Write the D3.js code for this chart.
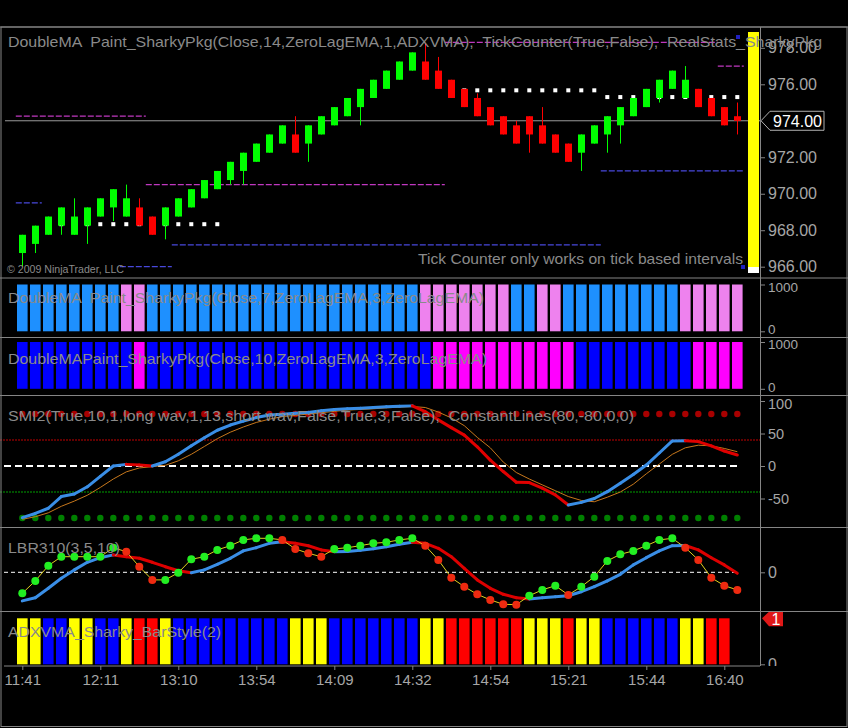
<!DOCTYPE html>
<html>
<head>
<meta charset="utf-8">
<script src="https://cdn.jsdelivr.net/npm/d3@7"></script>
<style>
  body { margin: 0; background: #000; }
  svg { display: block; }
</style>
</head>
<body>
<div id="chart"></div>
<script>
// x axis labels (one every 6 bars)
var times = ["11:41", "12:11", "13:10", "13:54", "14:09", "14:32", "14:54", "15:21", "15:44", "16:40"];

// price bars
var open = [966.75, 967.25, 967.75, 968.25, 967.75, 968.25, 968.75, 969.25, 968.75, 969.25,
            968.75, 968.25, 968.75, 969.25, 969.75, 970.25, 970.75, 971.25, 971.75, 972.25,
            972.75, 973.25, 972.75, 973.25, 973.75, 974.25, 974.75, 975.25, 975.75, 976.25,
            976.75, 977.25, 976.75, 976.25, 975.75, 975.25, 974.75, 974.25, 973.75, 974.25,
            973.75, 973.25, 972.75, 972.25, 972.75, 973.25, 973.75, 974.25, 974.75, 975.25,
            975.75, 975.25, 975.75, 975.25, 974.75, 974.25];
var high = [967.75, 968.25, 968.75, 969.25, 969.75, 969.25, 969.75, 970.25, 970.50, 969.75,
            968.75, 969.25, 969.75, 970.25, 970.75, 971.25, 971.75, 972.25, 972.75, 973.25,
            973.75, 974.25, 973.75, 974.25, 974.75, 975.25, 975.75, 976.25, 976.75, 977.25,
            977.75, 978.25, 977.50, 976.25, 975.75, 975.50, 974.75, 974.25, 974.00, 974.25,
            974.75, 973.25, 972.75, 973.25, 973.75, 974.25, 974.75, 975.25, 975.75, 976.25,
            976.75, 977.00, 975.75, 975.25, 974.75, 975.00];
var low  = [966.00, 966.75, 967.75, 967.75, 967.75, 967.25, 968.75, 968.50, 968.75, 968.25,
            967.75, 967.50, 968.75, 969.25, 969.75, 970.25, 970.50, 970.50, 971.75, 972.25,
            972.75, 972.25, 971.75, 973.25, 973.75, 974.25, 973.75, 975.25, 975.75, 976.25,
            976.75, 976.25, 975.75, 975.25, 974.75, 974.25, 973.75, 973.25, 972.75, 972.25,
            972.75, 972.25, 971.75, 971.25, 972.75, 972.25, 972.75, 974.25, 974.75, 975.00,
            975.75, 975.25, 974.75, 974.25, 973.75, 973.25];
var close = [967.75, 968.25, 968.75, 969.25, 968.75, 969.25, 969.75, 970.25, 969.75, 968.25,
             967.75, 969.25, 969.75, 970.25, 970.75, 971.25, 971.75, 972.25, 972.75, 973.25,
             973.75, 972.25, 973.75, 974.25, 974.75, 975.25, 975.75, 976.25, 976.75, 977.25,
             977.75, 976.25, 975.75, 975.25, 974.75, 974.25, 973.75, 973.25, 972.75, 973.25,
             972.75, 972.25, 971.75, 973.25, 973.75, 974.25, 974.75, 975.25, 975.75, 976.25,
             976.75, 976.25, 974.75, 974.25, 973.75, 974.00];
var lastPrice = 974.00;
// 974.00 is hidden behind the last price marker
var priceTicks = [966, 968, 970, 972, 976, 978];

// [first bar, last bar, price]
var stopLevels = [[3, 15, 968.33], [33, 44, 975.67], [45, 55, 975.30]];
var upperLevels = [[0, 9, 974.25], [10, 32, 970.50], [33, 53, 978.30], [54, 55, 977.00]];
var lowerLevels = [[0, 1, 969.50], [8, 11, 966.00], [12, 44, 967.20], [45, 55, 971.25]];

// paint bars: 1 = up colour, 0 = down colour
var dmaFast = [1,1,1,1,1,1,1,1,0,0, 1,1,1,1,1,1,1,1,1,1, 1,1,1,1,1,1,1,1,1,1,
               1,0,0,0,0,0,0,0,1,1, 0,0,1,1,1,1,1,1,1,1, 1,0,0,0,0,0];
var dmaSlow = [1,1,1,1,1,1,1,1,1,0, 1,1,1,1,1,1,1,1,1,1, 1,1,1,1,1,1,1,1,1,1,
               1,1,0,0,0,0,0,0,0,0, 0,0,0,1,1,1,1,1,1,1, 1,1,0,0,0,0];

// SMI
var smi = [-79.5, -73, -65, -47, -43, -32, -16, 0, 2.5, 1.5,
           0, 6.5, 18, 31, 43.5, 55, 63, 69, 74.5, 78.5,
           79.5, 81, 82.5, 85, 87, 88, 89, 90, 91, 92,
           92.5, 83.5, 71, 59, 47.5, 29.5, 9, -8.5, -25, -25.5,
           -34, -44.5, -60, -56, -50, -39.5, -26.5, -13, 1.5, 20,
           38.5, 39, 37.5, 31, 23, 17];
var smiSignal = [-82, -78, -72, -62, -54, -45, -33, -20, -9, -3,
                 -1, 1, 8, 18, 30, 42, 52, 60, 67, 72,
                 76, 78, 80, 82, 84, 86, 87, 88, 89.5, 90.5,
                 91.5, 90, 83, 74, 62, 44, 28, 6, -10, -20,
                 -29, -38, -47, -53, -55, -48, -40, -28, -12, 3,
                 18, 28, 32, 31, 27, 22];
var smiTicks = [-50, 0, 50, 100];
var constLines = [80, -80, 40, -40];

// LBR310
var lbrFast = [-1.05, -0.43, 0.33, 0.78, 0.78, 0.78, 0.78, 1.23, 1.03, 0.28,
               -0.38, -0.38, -0.02, 0.65, 0.78, 1.12, 1.33, 1.62, 1.70, 1.70,
               1.62, 1.17, 0.95, 0.78, 1.17, 1.23, 1.33, 1.45, 1.50, 1.62,
               1.70, 1.33, 0.62, -0.27, -0.72, -1.10, -1.38, -1.60, -1.62, -1.17,
               -0.88, -0.67, -1.13, -0.72, -0.22, 0.57, 0.90, 1.07, 1.33, 1.62,
               1.70, 1.23, 0.62, -0.27, -0.67, -0.88];
var lbrSlow = [-1.43, -1.27, -0.80, -0.30, 0.12, 0.50, 0.73, 0.87, 0.78, 0.70,
               0.50, 0.28, 0.08, -0.02, 0.12, 0.40, 0.70, 1.07, 1.23, 1.45,
               1.53, 1.45, 1.33, 1.12, 1.03, 1.04, 1.10, 1.18, 1.28, 1.40,
               1.50, 1.45, 1.20, 0.78, 0.20, -0.38, -0.80, -1.10, -1.27, -1.33,
               -1.27, -1.22, -1.17, -0.97, -0.72, -0.43, -0.10, 0.37, 0.73, 1.07,
               1.33, 1.34, 1.12, 0.73, 0.37, -0.05];

// ADXVMA bar style: Y yellow, B blue, R red
var adxStyle = ["Y","Y","B","B","Y","Y","B","B","Y","R",
                "R","Y","B","B","B","B","B","B","B","B",
                "B","Y","Y","Y","B","B","B","B","B","B",
                "B","Y","Y","R","R","R","R","R","R","Y",
                "Y","Y","R","Y","Y","B","B","B","B","B",
                "B","Y","Y","R","R"];

var font = "'Liberation Sans', Arial, sans-serif";
var lineGray = "#858585", textGray = "#8a8a8a", labelGray = "#a6a6a6";

var svg = d3.select("#chart").append("svg")
    .attr("width", 848).attr("height", 728)
    .style("background", "#000")
    .attr("font-family", font);
var defs = svg.append("defs");

// bar index -> pixel
var x = d3.scaleLinear().domain([0, 55]).range([22.3, 737.3]);
var half = 6.5;

function panel(id, top, bottom) {
  defs.append("clipPath").attr("id", id).append("rect")
    .attr("x", 0).attr("y", top).attr("width", 848).attr("height", bottom - top);
  return svg.append("g").attr("clip-path", "url(#" + id + ")");
}

// nudge(v) shifts a label a little so neighbouring panels' labels don't collide
function rightAxis(g, scale, values, fmt, size, nudge) {
  var ax = g.append("g").attr("transform", "translate(760,0)")
    .call(d3.axisRight(scale).tickValues(values).tickSize(5).tickPadding(3).tickFormat(fmt));
  ax.select(".domain").remove();
  ax.selectAll("line").attr("stroke", lineGray);
  ax.selectAll("text").attr("fill", labelGray).attr("font-size", size || 16).attr("font-family", font)
    .attr("y", d => nudge ? nudge(d) : 0);
  return ax;
}

function legend(g, txt, x0, y0, len, size) {
  g.append("text").attr("x", x0).attr("y", y0)
    .attr("fill", textGray).attr("font-size", size)
    .attr("textLength", len).attr("lengthAdjust", "spacingAndGlyphs")
    .style("white-space", "pre")
    .text(txt);
}

// coloured polyline, blue while rising, red while falling
function dirLine(g, scale, vals, up, down, w) {
  g.append("g").selectAll("line")
    .data(d3.range(1, vals.length))
    .join("line")
      .attr("x1", i => x(i - 1)).attr("y1", i => scale(vals[i - 1]))
      .attr("x2", i => x(i)).attr("y2", i => scale(vals[i]))
      .attr("stroke", i => vals[i] >= vals[i - 1] ? up : down)
      .attr("stroke-width", w)
      .attr("stroke-linecap", "round");
}

// ---------- price panel ----------
var pg = panel("cp0", 27, 278);
var y = d3.scaleLinear().domain([966, 976]).range([266.7, 84.3]);

function levelLines(levels, color) {
  pg.append("g").selectAll("line")
    .data(levels)
    .join("line")
      .attr("x1", d => x(d[0]) - half).attr("x2", d => x(d[1]) + half)
      .attr("y1", d => y(d[2])).attr("y2", d => y(d[2]))
      .attr("stroke", color).attr("stroke-width", 1.3)
      .attr("stroke-dasharray", "6,2");
}
levelLines(upperLevels, "#c038c0");
levelLines(lowerLevels, "#4848dc");

pg.append("line")
  .attr("x1", 5).attr("x2", 760)
  .attr("y1", y(lastPrice)).attr("y2", y(lastPrice))
  .attr("stroke", "#9a9a9a").attr("stroke-width", 1);

var stopDots = [];
stopLevels.forEach(function(s) {
  d3.range(s[0], s[1] + 1).forEach(function(i) { stopDots.push({i: i, p: s[2]}); });
});
pg.append("g").selectAll("rect")
  .data(stopDots)
  .join("rect")
    .attr("x", d => x(d.i) - 2).attr("y", d => y(d.p) - 2)
    .attr("width", 4).attr("height", 4)
    .attr("fill", "#fff");

var bars = d3.range(open.length);
var candleColor = i => close[i] >= open[i] ? "#00ff00" : "#ff0000";
pg.append("g").selectAll("line")
  .data(bars)
  .join("line")
    .attr("x1", i => Math.round(x(i)) + 0.5).attr("x2", i => Math.round(x(i)) + 0.5)
    .attr("y1", i => y(high[i])).attr("y2", i => y(low[i]))
    .attr("stroke", candleColor).attr("stroke-width", 1);
pg.append("g").selectAll("rect")
  .data(bars)
  .join("rect")
    .attr("x", i => Math.round(x(i)) - 3)
    .attr("width", 7)
    .attr("y", i => y(Math.max(open[i], close[i])))
    .attr("height", i => Math.max(1, y(Math.min(open[i], close[i])) - y(Math.max(open[i], close[i]))))
    .attr("fill", candleColor);

// tick counter bar
pg.append("rect").attr("x", 748).attr("y", 32).attr("width", 11).attr("height", 235).attr("fill", "#ffff00");
pg.append("rect").attr("x", 748).attr("y", 267).attr("width", 11).attr("height", 6).attr("fill", "#fff");
pg.append("rect").attr("x", 736).attr("y", 35).attr("width", 4).attr("height", 4).attr("fill", "#2020c0");
pg.append("rect").attr("x", 741).attr("y", 265).attr("width", 4).attr("height", 4).attr("fill", "#2020c0");

rightAxis(pg, y, priceTicks, d3.format(".2f"));

// last price marker
var ly = y(lastPrice);
pg.append("polygon")
  .attr("points", [[761, ly], [770, ly - 9.5], [824, ly - 9.5], [824, ly + 9.5], [770, ly + 9.5]].join(" "))
  .attr("fill", "#000").attr("stroke", "#b0b0b0").attr("stroke-width", 1);
pg.append("text").attr("x", 773).attr("y", ly + 6)
  .attr("fill", "#fff").attr("font-size", 16).text(d3.format(".2f")(lastPrice));

legend(pg, "DoubleMA  Paint_SharkyPkg(Close,14,ZeroLagEMA,1,ADXVMA),  TickCounter(True,False),  RealStats_SharkyPkg", 8, 46.5, 814, 15);
legend(pg, "Tick Counter only works on tick based intervals", 418, 263.5, 325, 15);
legend(pg, "\u00a9 2009 NinjaTrader, LLC", 7, 273, 117, 11);

// ---------- paint bar panels ----------
function paintPanel(id, top, bottom, yTop, yBot, states, upCol, downCol, label, ly0, llen) {
  var g = panel(id, top, bottom);
  var ys = d3.scaleLinear().domain([0, 1000]).range([yBot, yTop]);
  g.append("g").selectAll("rect")
    .data(states)
    .join("rect")
      .attr("x", (d, i) => x(i) - 5.3).attr("width", 10.6)
      .attr("y", ys(1000)).attr("height", ys(0) - ys(1000))
      .attr("fill", d => d ? upCol : downCol);
  rightAxis(g, ys, [0, 1000], d3.format("d"), 13.5, d => d ? 2.5 : -2);
  legend(g, label, 8, ly0, llen, 15);
}
paintPanel("cp1", 278, 337.5, 284.5, 331.3, dmaFast, "#1e90ff", "#ee82ee",
  "DoubleMA  Paint_SharkyPkg(Close,7,ZeroLagEMA,3,ZeroLagEMA)", 302.5, 476);
paintPanel("cp2", 337.5, 395.5, 342, 388.8, dmaSlow, "#0000ff", "#ff00ff",
  "DoubleMAPaint_SharkyPkg(Close,10,ZeroLagEMA,3,ZeroLagEMA)", 363.5, 479);

// ---------- SMI panel ----------
var sg = panel("cp3", 395.5, 527.5);
var ySmi = d3.scaleLinear().domain([0, 100]).range([466, 401]);

sg.append("line").attr("x1", 0).attr("x2", 760)
  .attr("y1", ySmi(constLines[2])).attr("y2", ySmi(constLines[2]))
  .attr("stroke", "#c00000").attr("stroke-dasharray", "2,1");
sg.append("line").attr("x1", 0).attr("x2", 760)
  .attr("y1", ySmi(constLines[3])).attr("y2", ySmi(constLines[3]))
  .attr("stroke", "#00a000").attr("stroke-dasharray", "2,1");
sg.append("line").attr("x1", 4).attr("x2", 737)
  .attr("y1", ySmi(0)).attr("y2", ySmi(0))
  .attr("stroke", "#fff").attr("stroke-width", 2.2).attr("stroke-dasharray", "7,4");

sg.append("g").selectAll("circle")
  .data(bars)
  .join("circle")
    .attr("cx", i => x(i)).attr("cy", ySmi(constLines[0])).attr("r", 3.2)
    .attr("fill", "#a80000");
sg.append("g").selectAll("circle")
  .data(bars)
  .join("circle")
    .attr("cx", i => x(i)).attr("cy", ySmi(constLines[1])).attr("r", 3.2)
    .attr("fill", "#008000");

sg.append("path")
  .datum(smiSignal)
  .attr("fill", "none").attr("stroke", "#c8781c").attr("stroke-width", 1)
  .attr("d", d3.line().x((d, i) => x(i)).y(d => ySmi(d)));
dirLine(sg, ySmi, smi, "#3a8ee6", "#e00000", 3);

rightAxis(sg, ySmi, smiTicks, d => String(d), 14.5, d => d === 100 ? 2.5 : 0);
legend(sg, "SMI2(True,10,1,long wav,1,13,short wav,False,True,3,False),  ConstantLines(80,-80,0,0)", 8, 420.5, 626, 15);

// ---------- LBR310 panel ----------
var lg = panel("cp4", 527.5, 611.5);
var yLbr = d3.scaleLinear().domain([0, 1]).range([572.3, 552.3]);

lg.append("line").attr("x1", 4).attr("x2", 737)
  .attr("y1", yLbr(0)).attr("y2", yLbr(0))
  .attr("stroke", "#fff").attr("stroke-width", 1).attr("stroke-dasharray", "4,3");
dirLine(lg, yLbr, lbrSlow, "#3a8ee6", "#dd0000", 3);
lg.append("path")
  .datum(lbrFast)
  .attr("fill", "none").attr("stroke", "#e0d020").attr("stroke-width", 1)
  .attr("d", d3.line().x((d, i) => x(i)).y(d => yLbr(d)));
lg.append("g").selectAll("circle")
  .data(bars)
  .join("circle")
    .attr("cx", i => x(i)).attr("cy", i => yLbr(lbrFast[i])).attr("r", 4)
    .attr("fill", i => (i === 0 || lbrFast[i] >= lbrFast[i - 1]) ? "#22ee22" : "#ee2a10");

rightAxis(lg, yLbr, [0], d3.format("d"));
legend(lg, "LBR310(3,5,10)", 8, 553, 112, 15);

// ---------- ADXVMA bar style panel ----------
var ag = panel("cp5", 611.5, 666);
var yAdx = d3.scaleLinear().domain([0, 1]).range([664.3, 618.3]);
var styleColor = {Y: "#ffff00", B: "#0000ff", R: "#ff0000"};
ag.append("g").selectAll("rect")
  .data(adxStyle)
  .join("rect")
    .attr("x", (d, i) => x(i) - 5.3).attr("width", 10.6)
    .attr("y", yAdx(1)).attr("height", yAdx(0) - yAdx(1))
    .attr("fill", d => styleColor[d]);
rightAxis(ag, yAdx, [0], d3.format("d"));
legend(ag, "ADXVMA_Sharky_BarStyle(2)", 8, 636.5, 213, 15);

var ty = yAdx(1);
svg.append("polygon")
  .attr("points", [[762, ty], [769, ty - 6.5], [783, ty - 6.5], [783, ty + 8], [769, ty + 8]].join(" "))
  .attr("fill", "#e01818");
svg.append("text").attr("x", 776).attr("y", ty + 6.5).attr("text-anchor", "middle")
  .attr("fill", "#fff").attr("font-size", 16).text("1");

// ---------- time axis ----------
var tickIdx = times.map((t, k) => k * 6);
var xa = svg.append("g").attr("transform", "translate(0,666)")
  .call(d3.axisBottom(x).tickValues(tickIdx).tickSize(4).tickPadding(4)
    .tickFormat((d, k) => times[k]));
xa.select(".domain").remove();
xa.selectAll("line").attr("stroke", lineGray);
xa.selectAll("text").attr("fill", labelGray).attr("font-size", 15).attr("font-family", font);

// ---------- frame and separators ----------
[27, 278, 337.5, 395.5, 527.5, 611.5].forEach(function(v) {
  svg.append("line").attr("x1", 0).attr("x2", 848).attr("y1", v).attr("y2", v)
    .attr("stroke", lineGray).attr("stroke-width", 1);
});
svg.append("line").attr("x1", 4).attr("x2", 760).attr("y1", 666).attr("y2", 666).attr("stroke", lineGray);
svg.append("line").attr("x1", 760.5).attr("x2", 760.5).attr("y1", 27).attr("y2", 666).attr("stroke", lineGray);
svg.append("rect").attr("x", 1).attr("y", 27).attr("width", 846).attr("height", 699.5)
  .attr("fill", "none").attr("stroke", lineGray);
</script>
</body>
</html>
